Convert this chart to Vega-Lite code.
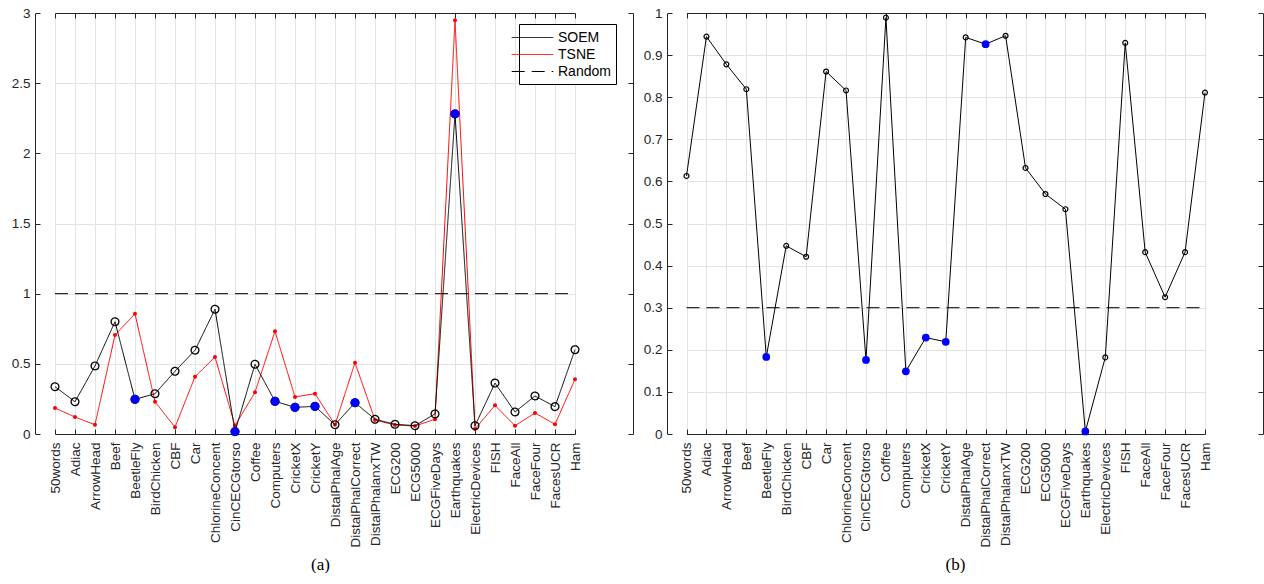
{
  "$schema": "https://vega.github.io/schema/vega-lite/v6.json",
  "background": "white",
  "padding": {"left": 11, "top": 6, "right": 0, "bottom": 0},
  "config": {
    "view": {"stroke": null},
    "font": "Liberation Sans",
    "axis": {
      "labelFont": "Liberation Sans",
      "labelFontSize": 13.5,
      "labelColor": "#262626",
      "domainColor": "#262626",
      "tickColor": "#262626",
      "gridColor": "#e3e3e3",
      "gridWidth": 1,
      "domainWidth": 1,
      "tickWidth": 1
    },
    "legend": {
      "labelFont": "Liberation Sans",
      "labelFontSize": 14,
      "labelColor": "#000000"
    }
  },
  "datasets": {
    "left": [
      {"dataset": "50words", "method": "SOEM", "value": 0.337, "flag": false},
      {"dataset": "Adiac", "method": "SOEM", "value": 0.23, "flag": false},
      {"dataset": "ArrowHead", "method": "SOEM", "value": 0.485, "flag": false},
      {"dataset": "Beef", "method": "SOEM", "value": 0.80, "flag": false},
      {"dataset": "BeetleFly", "method": "SOEM", "value": 0.247, "flag": true},
      {"dataset": "BirdChicken", "method": "SOEM", "value": 0.287, "flag": false},
      {"dataset": "CBF", "method": "SOEM", "value": 0.447, "flag": false},
      {"dataset": "Car", "method": "SOEM", "value": 0.597, "flag": false},
      {"dataset": "ChlorineConcent", "method": "SOEM", "value": 0.889, "flag": false},
      {"dataset": "CinCECGtorso", "method": "SOEM", "value": 0.017, "flag": true},
      {"dataset": "Coffee", "method": "SOEM", "value": 0.497, "flag": false},
      {"dataset": "Computers", "method": "SOEM", "value": 0.233, "flag": true},
      {"dataset": "CricketX", "method": "SOEM", "value": 0.19, "flag": true},
      {"dataset": "CricketY", "method": "SOEM", "value": 0.197, "flag": true},
      {"dataset": "DistalPhalAge", "method": "SOEM", "value": 0.066, "flag": false},
      {"dataset": "DistalPhalCorrect", "method": "SOEM", "value": 0.223, "flag": true},
      {"dataset": "DistalPhalanxTW", "method": "SOEM", "value": 0.105, "flag": false},
      {"dataset": "ECG200", "method": "SOEM", "value": 0.069, "flag": false},
      {"dataset": "ECG5000", "method": "SOEM", "value": 0.059, "flag": false},
      {"dataset": "ECGFiveDays", "method": "SOEM", "value": 0.143, "flag": false},
      {"dataset": "Earthquakes", "method": "SOEM", "value": 2.281, "flag": true},
      {"dataset": "ElectricDevices", "method": "SOEM", "value": 0.059, "flag": false},
      {"dataset": "FISH", "method": "SOEM", "value": 0.363, "flag": false},
      {"dataset": "FaceAll", "method": "SOEM", "value": 0.157, "flag": false},
      {"dataset": "FaceFour", "method": "SOEM", "value": 0.271, "flag": false},
      {"dataset": "FacesUCR", "method": "SOEM", "value": 0.195, "flag": false},
      {"dataset": "Ham", "method": "SOEM", "value": 0.601, "flag": false},
      {"dataset": "50words", "method": "TSNE", "value": 0.185, "flag": false},
      {"dataset": "Adiac", "method": "TSNE", "value": 0.121, "flag": false},
      {"dataset": "ArrowHead", "method": "TSNE", "value": 0.066, "flag": false},
      {"dataset": "Beef", "method": "TSNE", "value": 0.705, "flag": false},
      {"dataset": "BeetleFly", "method": "TSNE", "value": 0.857, "flag": false},
      {"dataset": "BirdChicken", "method": "TSNE", "value": 0.23, "flag": false},
      {"dataset": "CBF", "method": "TSNE", "value": 0.048, "flag": false},
      {"dataset": "Car", "method": "TSNE", "value": 0.408, "flag": false},
      {"dataset": "ChlorineConcent", "method": "TSNE", "value": 0.549, "flag": false},
      {"dataset": "CinCECGtorso", "method": "TSNE", "value": 0.06, "flag": false},
      {"dataset": "Coffee", "method": "TSNE", "value": 0.297, "flag": false},
      {"dataset": "Computers", "method": "TSNE", "value": 0.732, "flag": false},
      {"dataset": "CricketX", "method": "TSNE", "value": 0.264, "flag": false},
      {"dataset": "CricketY", "method": "TSNE", "value": 0.287, "flag": false},
      {"dataset": "DistalPhalAge", "method": "TSNE", "value": 0.066, "flag": false},
      {"dataset": "DistalPhalCorrect", "method": "TSNE", "value": 0.508, "flag": false},
      {"dataset": "DistalPhalanxTW", "method": "TSNE", "value": 0.10, "flag": false},
      {"dataset": "ECG200", "method": "TSNE", "value": 0.064, "flag": false},
      {"dataset": "ECG5000", "method": "TSNE", "value": 0.057, "flag": false},
      {"dataset": "ECGFiveDays", "method": "TSNE", "value": 0.105, "flag": false},
      {"dataset": "Earthquakes", "method": "TSNE", "value": 2.948, "flag": false},
      {"dataset": "ElectricDevices", "method": "TSNE", "value": 0.036, "flag": false},
      {"dataset": "FISH", "method": "TSNE", "value": 0.204, "flag": false},
      {"dataset": "FaceAll", "method": "TSNE", "value": 0.059, "flag": false},
      {"dataset": "FaceFour", "method": "TSNE", "value": 0.15, "flag": false},
      {"dataset": "FacesUCR", "method": "TSNE", "value": 0.069, "flag": false},
      {"dataset": "Ham", "method": "TSNE", "value": 0.39, "flag": false}
    ],
    "leftRandom": [
      {"method": "Random", "from": "50words", "to": "Ham", "value": 1}
    ],
    "right": [
      {"dataset": "50words", "value": 0.613, "flag": false},
      {"dataset": "Adiac", "value": 0.944, "flag": false},
      {"dataset": "ArrowHead", "value": 0.878, "flag": false},
      {"dataset": "Beef", "value": 0.819, "flag": false},
      {"dataset": "BeetleFly", "value": 0.183, "flag": true},
      {"dataset": "BirdChicken", "value": 0.447, "flag": false},
      {"dataset": "CBF", "value": 0.421, "flag": false},
      {"dataset": "Car", "value": 0.861, "flag": false},
      {"dataset": "ChlorineConcent", "value": 0.816, "flag": false},
      {"dataset": "CinCECGtorso", "value": 0.176, "flag": true},
      {"dataset": "Coffee", "value": 0.989, "flag": false},
      {"dataset": "Computers", "value": 0.149, "flag": true},
      {"dataset": "CricketX", "value": 0.229, "flag": true},
      {"dataset": "CricketY", "value": 0.219, "flag": true},
      {"dataset": "DistalPhalAge", "value": 0.942, "flag": false},
      {"dataset": "DistalPhalCorrect", "value": 0.926, "flag": true},
      {"dataset": "DistalPhalanxTW", "value": 0.946, "flag": false},
      {"dataset": "ECG200", "value": 0.632, "flag": false},
      {"dataset": "ECG5000", "value": 0.570, "flag": false},
      {"dataset": "ECGFiveDays", "value": 0.534, "flag": false},
      {"dataset": "Earthquakes", "value": 0.006, "flag": true},
      {"dataset": "ElectricDevices", "value": 0.182, "flag": false},
      {"dataset": "FISH", "value": 0.929, "flag": false},
      {"dataset": "FaceAll", "value": 0.432, "flag": false},
      {"dataset": "FaceFour", "value": 0.325, "flag": false},
      {"dataset": "FacesUCR", "value": 0.432, "flag": false},
      {"dataset": "Ham", "value": 0.811, "flag": false}
    ],
    "rightRandom": [
      {"from": "50words", "to": "Ham", "value": 0.3}
    ]
  },
  "bounds": "flush",
  "spacing": 34,
  "hconcat": [
    {
      "width": 598,
      "height": 421,
      "resolve": {"axis": {"x": "independent", "y": "independent"}},
      "layer": [
        {
          "data": {"name": "leftRandom"},
          "mark": {"type": "rule", "strokeWidth": 1},
          "encoding": {
            "x": {"field": "from", "type": "nominal", "axis": null,
              "scale": {"type": "point", "domain": ["50words","Adiac","ArrowHead","Beef","BeetleFly","BirdChicken","CBF","Car","ChlorineConcent","CinCECGtorso","Coffee","Computers","CricketX","CricketY","DistalPhalAge","DistalPhalCorrect","DistalPhalanxTW","ECG200","ECG5000","ECGFiveDays","Earthquakes","ElectricDevices","FISH","FaceAll","FaceFour","FacesUCR","Ham"], "padding": 0, "range": [20, 540]}},
            "x2": {"field": "to"},
            "y": {"field": "value", "type": "quantitative", "axis": null, "scale": {"domain": [0, 3], "nice": false}},
            "color": {"field": "method", "type": "nominal",
              "scale": {"domain": ["SOEM", "TSNE", "Random"], "range": ["#000000", "#ff0000", "#000000"]},
              "legend": {"orient": "none", "legendX": 484, "legendY": 11, "title": null, "strokeColor": "#000000", "fillColor": "#ffffff", "padding": 5, "symbolType": "M-2.6,0H2.6", "symbolSize": 256, "symbolStrokeWidth": 1, "labelOffset": 17, "rowPadding": 1}},
            "strokeDash": {"field": "method", "type": "nominal",
              "scale": {"domain": ["SOEM", "TSNE", "Random"], "range": [[1, 0], [1, 0], [13, 7]]}}
          }
        },
        {
          "data": {"name": "left"},
          "transform": [{"filter": "datum.method === 'TSNE'"}],
          "mark": {"type": "line", "strokeWidth": 1, "point": {"filled": true, "size": 16}},
          "encoding": {
            "x": {"field": "dataset", "type": "nominal", "sort": null,
              "axis": {"orient": "bottom", "title": "(a)", "titleFont": "Liberation Serif", "titleFontSize": 17, "titleFontWeight": "normal", "titleColor": "#000000", "titlePadding": 9, "titleX": 285, "titleAlign": "center", "labelAngle": -90, "tickSize": -5, "labelPadding": 13, "grid": true}},
            "y": {"field": "value", "type": "quantitative",
              "axis": {"orient": "left", "title": null, "values": [0, 0.5, 1, 1.5, 2, 2.5, 3], "format": "~g", "tickSize": -5, "labelPadding": 10, "grid": true}},
            "color": {"field": "method", "type": "nominal"},
            "strokeDash": {"field": "method", "type": "nominal"}
          }
        },
        {
          "data": {"name": "left"},
          "transform": [{"filter": "datum.method === 'SOEM'"}],
          "mark": {"type": "line", "strokeWidth": 1, "point": {"filled": false, "size": 60, "strokeWidth": 1.3}},
          "encoding": {
            "x": {"field": "dataset", "type": "nominal", "sort": null,
              "axis": {"orient": "top", "title": null, "labels": false, "tickSize": -5, "grid": false}},
            "y": {"field": "value", "type": "quantitative",
              "axis": {"orient": "right", "title": null, "labels": false, "values": [0, 0.5, 1, 1.5, 2, 2.5, 3], "tickSize": -5, "grid": false}},
            "color": {"field": "method", "type": "nominal"},
            "strokeDash": {"field": "method", "type": "nominal"}
          }
        },
        {
          "data": {"name": "left"},
          "transform": [{"filter": "datum.method === 'SOEM' && datum.flag"}],
          "mark": {"type": "circle", "color": "#0000ff", "size": 80, "opacity": 1},
          "encoding": {
            "x": {"field": "dataset", "type": "nominal", "sort": null, "axis": null},
            "y": {"field": "value", "type": "quantitative", "axis": null}
          }
        }
      ]
    },
    {
      "width": 596,
      "height": 421,
      "resolve": {"axis": {"x": "independent", "y": "independent"}},
      "layer": [
        {
          "data": {"name": "rightRandom"},
          "mark": {"type": "rule", "strokeWidth": 1, "color": "#000000", "strokeDash": [13, 7]},
          "encoding": {
            "x": {"field": "from", "type": "nominal", "axis": null,
              "scale": {"type": "point", "domain": ["50words","Adiac","ArrowHead","Beef","BeetleFly","BirdChicken","CBF","Car","ChlorineConcent","CinCECGtorso","Coffee","Computers","CricketX","CricketY","DistalPhalAge","DistalPhalCorrect","DistalPhalanxTW","ECG200","ECG5000","ECGFiveDays","Earthquakes","ElectricDevices","FISH","FaceAll","FaceFour","FacesUCR","Ham"], "padding": 0, "range": [19.5, 538]}},
            "x2": {"field": "to"},
            "y": {"field": "value", "type": "quantitative", "axis": null, "scale": {"domain": [0, 1], "nice": false}}
          }
        },
        {
          "data": {"name": "right"},
          "mark": {"type": "line", "strokeWidth": 1, "color": "#000000", "point": {"filled": false, "size": 24, "strokeWidth": 1.2, "color": "#000000"}},
          "encoding": {
            "x": {"field": "dataset", "type": "nominal", "sort": null,
              "axis": {"orient": "bottom", "title": "(b)", "titleFont": "Liberation Serif", "titleFontSize": 17, "titleFontWeight": "normal", "titleColor": "#000000", "titlePadding": 9, "titleX": 288, "titleAlign": "center", "labelAngle": -90, "tickSize": -5, "labelPadding": 13, "grid": true}},
            "y": {"field": "value", "type": "quantitative",
              "axis": {"orient": "left", "title": null, "values": [0, 0.1, 0.2, 0.3, 0.4, 0.5, 0.6, 0.7, 0.8, 0.9, 1], "format": "~g", "tickSize": -5, "labelPadding": 10, "grid": true}}
          }
        },
        {
          "data": {"name": "right"},
          "mark": {"type": "line", "strokeOpacity": 0, "strokeWidth": 0},
          "encoding": {
            "x": {"field": "dataset", "type": "nominal", "sort": null,
              "axis": {"orient": "top", "title": null, "labels": false, "tickSize": -5, "grid": false}},
            "y": {"field": "value", "type": "quantitative",
              "axis": {"orient": "right", "title": null, "labels": false, "values": [0, 0.1, 0.2, 0.3, 0.4, 0.5, 0.6, 0.7, 0.8, 0.9, 1], "tickSize": -5, "grid": false}}
          }
        },
        {
          "data": {"name": "right"},
          "transform": [{"filter": "datum.flag"}],
          "mark": {"type": "circle", "color": "#0000ff", "size": 60, "opacity": 1},
          "encoding": {
            "x": {"field": "dataset", "type": "nominal", "sort": null, "axis": null},
            "y": {"field": "value", "type": "quantitative", "axis": null}
          }
        }
      ]
    }
  ]
}
